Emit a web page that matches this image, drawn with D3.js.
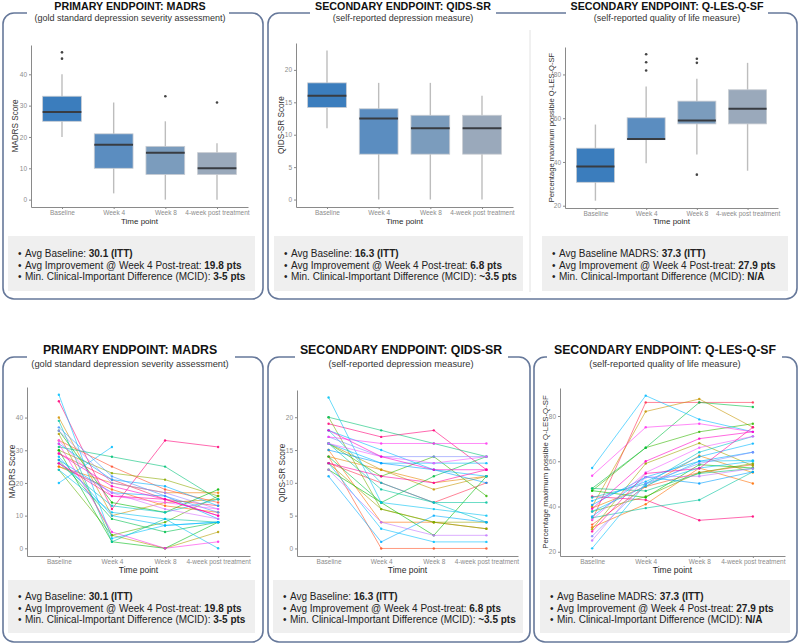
<!DOCTYPE html>
<html><head><meta charset="utf-8">
<script src="https://cdn.jsdelivr.net/npm/d3@7"></script>
<style>body{margin:0;background:#fff}svg{display:block}text{font-family:"Liberation Sans",Arial,sans-serif}</style>
</head><body><svg id="c" width="800" height="644"></svg>
<script>
// ---------- DATA ----------
const timepoints = ["Baseline", "Week 4", "Week 8", "4-week post treatment"];

// box stats per timepoint: [lower whisker, Q1, median, Q3, upper whisker]
const madrsBoxStats = [[20, 25, 28, 33, 40], [2, 10, 17.5, 21, 31], [0, 8, 15, 17, 25], [0, 8, 10, 15, 18]];
const madrsOutliers = [[45, 47], [], [33], [31]];
const qidsBoxStats = [[11, 14.2, 16, 18, 23], [0, 7, 12.5, 14, 18], [0, 7, 11, 13, 18], [0, 7, 11, 13, 16]];
const qidsOutliers = [[], [], [], []];
const qlesBoxStats = [[22.3, 30.7, 37.9, 46.3, 57.1], [39.4, 50.2, 50.5, 60.2, 74.5], [43.4, 57.4, 58.9, 67.8, 78], [36, 57.4, 64.3, 73, 85.3]];
const qlesOutliers = [[], [81.8, 85.6, 89.2], [34.2, 85.3, 87.2], []];

// individual subjects: [Baseline, Week 4, Week 8, 4-week post]
const madrsSubjects = [
  [45, 12, 33, 31], [29, 21, 15, 13], [33, 25, 18, 14], [25, 18, 13, 11], [25, 20, 17, 17],
  [40, 10, 14, 15], [35, 4, 0, 5], [30, 23, 21, 16], [24, 4, 8, 16], [36, 14, 11, 18],
  [30, 2, 0, 8], [27, 9, 5, 8], [31, 28, 25, 15], [39, 2, 9, 8], [26, 13, 11, 15],
  [24, 11, 9, 0], [47, 3, 7, 8], [20, 31, null, null], [28, 10, 7, 8], [32, 21, 19, 13],
  [27, 17, 16, 9], [37, 22, 16, 11], [36, 20, 17, 12], [26, 17, 12, 9], [33, 16, 14, 12],
  [32, 5, 0, 2], [29, 19, 15, 10], [26, 16, 15, 10]
];
const qidsSubjects = [
  [19, 17, 18, 12], [13, 10, 7, 10], [14, 0, 0, 0], [15, 4, 4, 3], [14, 12, 10, 11],
  [16, 12, 9, 11], [13, 6, 4, 4], [20, 6, 4, 3], [16, 11, 14, 8], [12, 7, 2, 11],
  [14, 7, 11, 14], [20, 18, 16, 14], [16, 9, 7, 7], [18, 10, 7, 4], [23, 7, 6, 5],
  [13, 3, 1, 1], [18, 15, 12, 11], [16, 13, 13, 13], [11, 1, 5, 4], [15, 13, 12, 10],
  [17, 14, 14, 14], [12, 4, 2, 2], [16, 14, 13, 14], [17, 16, 16, 16], [18, 14, 12, 12],
  [13, 11, 10, 12]
];
const qlesSubjects = [
  [44.4, 42.9, 33.9, 35.6], [34, 86, 86, 86], [32, 48.8, 55, 58.5], [30.8, 41, 57, 50.2],
  [39.3, 48.8, 62.4, 55], [40, 82, 87.5, 75], [30, 59, 68, 58], [37.8, 44.4, 55, 59],
  [47, 66, 73, 76.6], [47, 44, 58.5, 57], [48, 66, 86, 84], [48, 46.9, 54.6, 56.8],
  [35, 39.3, 42.9, 55.3], [44, 50, 64, 71], [37.8, 49, 60, 60.4], [21.5, 50, 57, 60],
  [57, 89, 78.5, 73], [42.5, 51, 62, 67.8], [35.6, 53, 60, 64], [40.7, 53, 50.2, 55.3],
  [26.9, 50.2, 59, 64], [25, 53, 53.4, 56.8], [34.2, 55, 66, 71], [53.6, 75, 76.6, 73],
  [39, 60, 70, 73], [29, 54.6, 56.8, 75]
];

const madrsTicks = [0, 10, 20, 30, 40];
const qidsTicks = [0, 5, 10, 15, 20];
const qlesTicks = [20, 40, 60, 80];

const titles = ["PRIMARY ENDPOINT: MADRS", "SECONDARY ENDPOINT: QIDS-SR", "SECONDARY ENDPOINT: Q-LES-Q-SF"];
const subtitles = ["(gold standard depression severity assessment)", "(self-reported depression measure)", "(self-reported quality of life measure)"];
const yTitles = ["MADRS Score", "QIDS-SR Score", "Percentage maximum possible Q-LES-Q-SF"];
const xTitle = "Time point";

const madrsNotes = [["Avg Baseline: ", "30.1 (ITT)"], ["Avg Improvement @ Week 4 Post-treat: ", "19.8 pts"], ["Min. Clinical-Important Difference (MCID): ", "3-5 pts"]];
const qidsNotes = [["Avg Baseline: ", "16.3 (ITT)"], ["Avg Improvement @ Week 4 Post-treat: ", "6.8 pts"], ["Min. Clinical-Important Difference (MCID): ", "~3.5 pts"]];
const qlesNotes = [["Avg Baseline MADRS: ", "37.3 (ITT)"], ["Avg Improvement @ Week 4 Post-treat: ", "27.9 pts"], ["Min. Clinical-Important Difference (MCID): ", "N/A"]];

// ---------- STYLE ----------
const boxFills = ["#3b7dbd", "#5b8dc0", "#7b9cbd", "#9aa9bb"];
const frameColor = "#66789a";
const svg = d3.select("#c");

function frame(x0, y0, x1, y1, gaps) {
  const r = 11;
  let d = `M${gaps[gaps.length - 1][1]},${y0} L${x1 - r},${y0} A${r},${r} 0 0 1 ${x1},${y0 + r} L${x1},${y1 - r} A${r},${r} 0 0 1 ${x1 - r},${y1} L${x0 + r},${y1} A${r},${r} 0 0 1 ${x0},${y1 - r} L${x0},${y0 + r} A${r},${r} 0 0 1 ${x0 + r},${y0} L${gaps[0][0]},${y0}`;
  for (let i = 0; i < gaps.length - 1; i++) d += ` M${gaps[i][1]},${y0} L${gaps[i + 1][0]},${y0}`;
  svg.append("path").attr("d", d).attr("fill", "none").attr("stroke", frameColor).attr("stroke-width", 1.6);
}

function ggHue(n) {
  return d3.range(n).map(i => d3.hcl(15 + 360 * i / n, 100, 65).formatHex());
}

function drawPanel(cfg) {
  const g = svg.append("g");
  const x = d3.scalePoint().domain(timepoints).range(cfg.px).padding(0.6);
  let vals;
  if (cfg.kind === "box") vals = cfg.stats.flat().concat(cfg.outliers.flat());
  else vals = cfg.subjects.flat().filter(v => v != null);
  const [lo, hi] = d3.extent(vals); const pad = (hi - lo) * 0.05;
  const y = d3.scaleLinear().domain([lo - pad, hi + pad]).range([cfg.py[1], cfg.py[0]]);

  // axes
  const xa = g.append("g").attr("transform", `translate(0,${cfg.py[1]})`)
    .call(d3.axisBottom(x).tickSize(2).tickSizeOuter(0).tickPadding(1.5));
  const ya = g.append("g").attr("transform", `translate(${cfg.px[0]},0)`)
    .call(d3.axisLeft(y).tickValues(cfg.ticks).tickSize(2).tickSizeOuter(0).tickPadding(2));
  [xa, ya].forEach(a => {
    a.select(".domain").attr("stroke", "#8a8a8a").attr("stroke-width", 1);
    a.selectAll(".tick line").attr("stroke", "#8a8a8a");
    a.selectAll(".tick text").attr("fill", "#8c8c8c").style("font-size", "6.5px")
      .style("font-family", '"Liberation Sans",Arial,sans-serif');
  });

  const step = x.step();
  if (cfg.kind === "box") {
    const bw = step * 0.75;
    timepoints.forEach((t, i) => {
      const [wl, q1, md, q3, wh] = cfg.stats[i];
      const cx = x(t);
      g.append("line").attr("x1", cx).attr("x2", cx).attr("y1", y(wh)).attr("y2", y(wl))
        .attr("stroke", "#bdbdbd").attr("stroke-width", 1.4);
      g.append("rect").attr("x", cx - bw / 2).attr("width", bw).attr("y", y(q3)).attr("height", y(q1) - y(q3))
        .attr("fill", boxFills[i]).attr("stroke", "#c8ccd2").attr("stroke-width", 0.8);
      g.append("line").attr("x1", cx - bw / 2).attr("x2", cx + bw / 2).attr("y1", y(md)).attr("y2", y(md))
        .attr("stroke", "#383c42").attr("stroke-width", 2);
      cfg.outliers[i].forEach(o => g.append("circle").attr("cx", cx).attr("cy", y(o)).attr("r", 1.3).attr("fill", "#444"));
    });
  } else {
    const cols = ggHue(cfg.subjects.length);
    const line = d3.line().defined(d => d[1] != null).x(d => x(d[0])).y(d => y(d[1]));
    cfg.subjects.forEach((s, k) => {
      const pts = timepoints.map((t, i) => [t, s[i]]);
      g.append("path").attr("d", line(pts)).attr("fill", "none").attr("stroke", cols[k])
        .attr("stroke-width", 0.9).attr("stroke-opacity", 0.65);
      pts.filter(p => p[1] != null).forEach(p => g.append("circle").attr("cx", x(p[0])).attr("cy", y(p[1]))
        .attr("r", 1.2).attr("fill", cols[k]).attr("fill-opacity", 0.85));
    });
  }

  // axis titles
  g.append("text").attr("x", (cfg.px[0] + cfg.px[1]) / 2).attr("y", cfg.timeY).attr("text-anchor", "middle")
    .attr("fill", "#2a2a2a").style("font-size", cfg.timeSize + "px").text(xTitle);
  g.append("text").attr("transform", `translate(${cfg.yTitleX},${(cfg.py[0] + cfg.py[1]) / 2}) rotate(-90)`)
    .attr("text-anchor", "middle").attr("dy", "0.35em").attr("fill", "#333").style("font-size", cfg.yTitleSize + "px").text(cfg.yTitle);

  // titles
  svg.append("text").attr("x", cfg.titleX).attr("y", cfg.titleY).attr("text-anchor", "middle")
    .attr("font-weight", "bold").attr("fill", "#111").style("font-size", cfg.titleSize + "px").text(cfg.title);
  svg.append("text").attr("x", cfg.titleX).attr("y", cfg.subY).attr("text-anchor", "middle")
    .attr("fill", "#333").style("font-size", cfg.subSize + "px").text(cfg.subtitle);

  // notes box
  svg.append("rect").attr("x", cfg.note[0]).attr("y", cfg.noteY[0]).attr("width", cfg.note[1] - cfg.note[0])
    .attr("height", cfg.noteY[1] - cfg.noteY[0]).attr("fill", "#efefef");
  cfg.notes.forEach((n, i) => {
    const yy = cfg.noteLines[i];
    svg.append("text").attr("x", cfg.note[0] + 10).attr("y", yy).attr("fill", "#222").style("font-size", "10px").text("•");
    const t = svg.append("text").attr("x", cfg.note[0] + 17).attr("y", yy).attr("fill", "#222").style("font-size", "10px");
    t.append("tspan").text(n[0]);
    t.append("tspan").attr("font-weight", "bold").text(n[1]);
  });
}

// ---------- FRAMES ----------
frame(3, 13, 263, 299, [[27, 229]]);
frame(268, 13, 797, 299, [[310, 496], [566, 768]]);
svg.append("line").attr("x1", 530).attr("x2", 530).attr("y1", 30).attr("y2", 292).attr("stroke", "#e2e2e2").attr("stroke-width", 1);
frame(3, 357, 263, 642, [[27, 235]]);
frame(268, 357, 530, 642, [[295, 508]]);
frame(534, 357, 797, 642, [[547, 782]]);

const topCommon = {titleY: 10, subY: 20.5, titleSize: 10.7, subSize: 9, timeY: 224, timeSize: 8, yTitleSize: 8.2,
  noteY: [236, 291], noteLines: [256.5, 268.5, 280]};
const botCommon = {titleY: 354, subY: 367, titleSize: 12.3, subSize: 9.3, timeY: 573, timeSize: 8.5, yTitleSize: 8.3,
  noteY: [580, 633], noteLines: [599.5, 611.5, 623]};

drawPanel(Object.assign({}, topCommon, {kind: "box", stats: madrsBoxStats, outliers: madrsOutliers, ticks: madrsTicks,
  px: [31, 248], py: [45, 207], yTitleX: 15, titleX: 130, title: titles[0], subtitle: subtitles[0], yTitle: yTitles[0],
  note: [8, 255], notes: madrsNotes}));
drawPanel(Object.assign({}, topCommon, {kind: "box", stats: qidsBoxStats, outliers: qidsOutliers, ticks: qidsTicks,
  px: [296, 513], py: [43, 207], yTitleX: 281, titleX: 403, title: titles[1], subtitle: subtitles[1], yTitle: yTitles[1],
  note: [274, 523], notes: qidsNotes}));
drawPanel(Object.assign({}, topCommon, {kind: "box", stats: qlesBoxStats, outliers: qlesOutliers, ticks: qlesTicks,
  px: [565, 778], py: [47, 208], yTitleX: 551, titleX: 667, title: titles[2], subtitle: subtitles[2], yTitle: yTitles[2],
  note: [542, 788], notes: qlesNotes, yTitleSize: 7.6}));

drawPanel(Object.assign({}, botCommon, {kind: "line", subjects: madrsSubjects, ticks: madrsTicks,
  px: [27, 250], py: [387, 556], yTitleX: 12, titleX: 130, title: titles[0], subtitle: subtitles[0], yTitle: yTitles[0],
  note: [8, 255], notes: madrsNotes}));
drawPanel(Object.assign({}, botCommon, {kind: "line", subjects: qidsSubjects, ticks: qidsTicks,
  px: [297, 518], py: [390, 556], yTitleX: 282, titleX: 401, title: titles[1], subtitle: subtitles[1], yTitle: yTitles[1],
  note: [273, 523], notes: qidsNotes}));
drawPanel(Object.assign({}, botCommon, {kind: "line", subjects: qlesSubjects, ticks: qlesTicks,
  px: [560, 785], py: [388, 556], yTitleX: 545, titleX: 665, title: titles[2], subtitle: subtitles[2], yTitle: yTitles[2],
  note: [540, 790], notes: qlesNotes, yTitleSize: 7.8}));
</script></body></html>
